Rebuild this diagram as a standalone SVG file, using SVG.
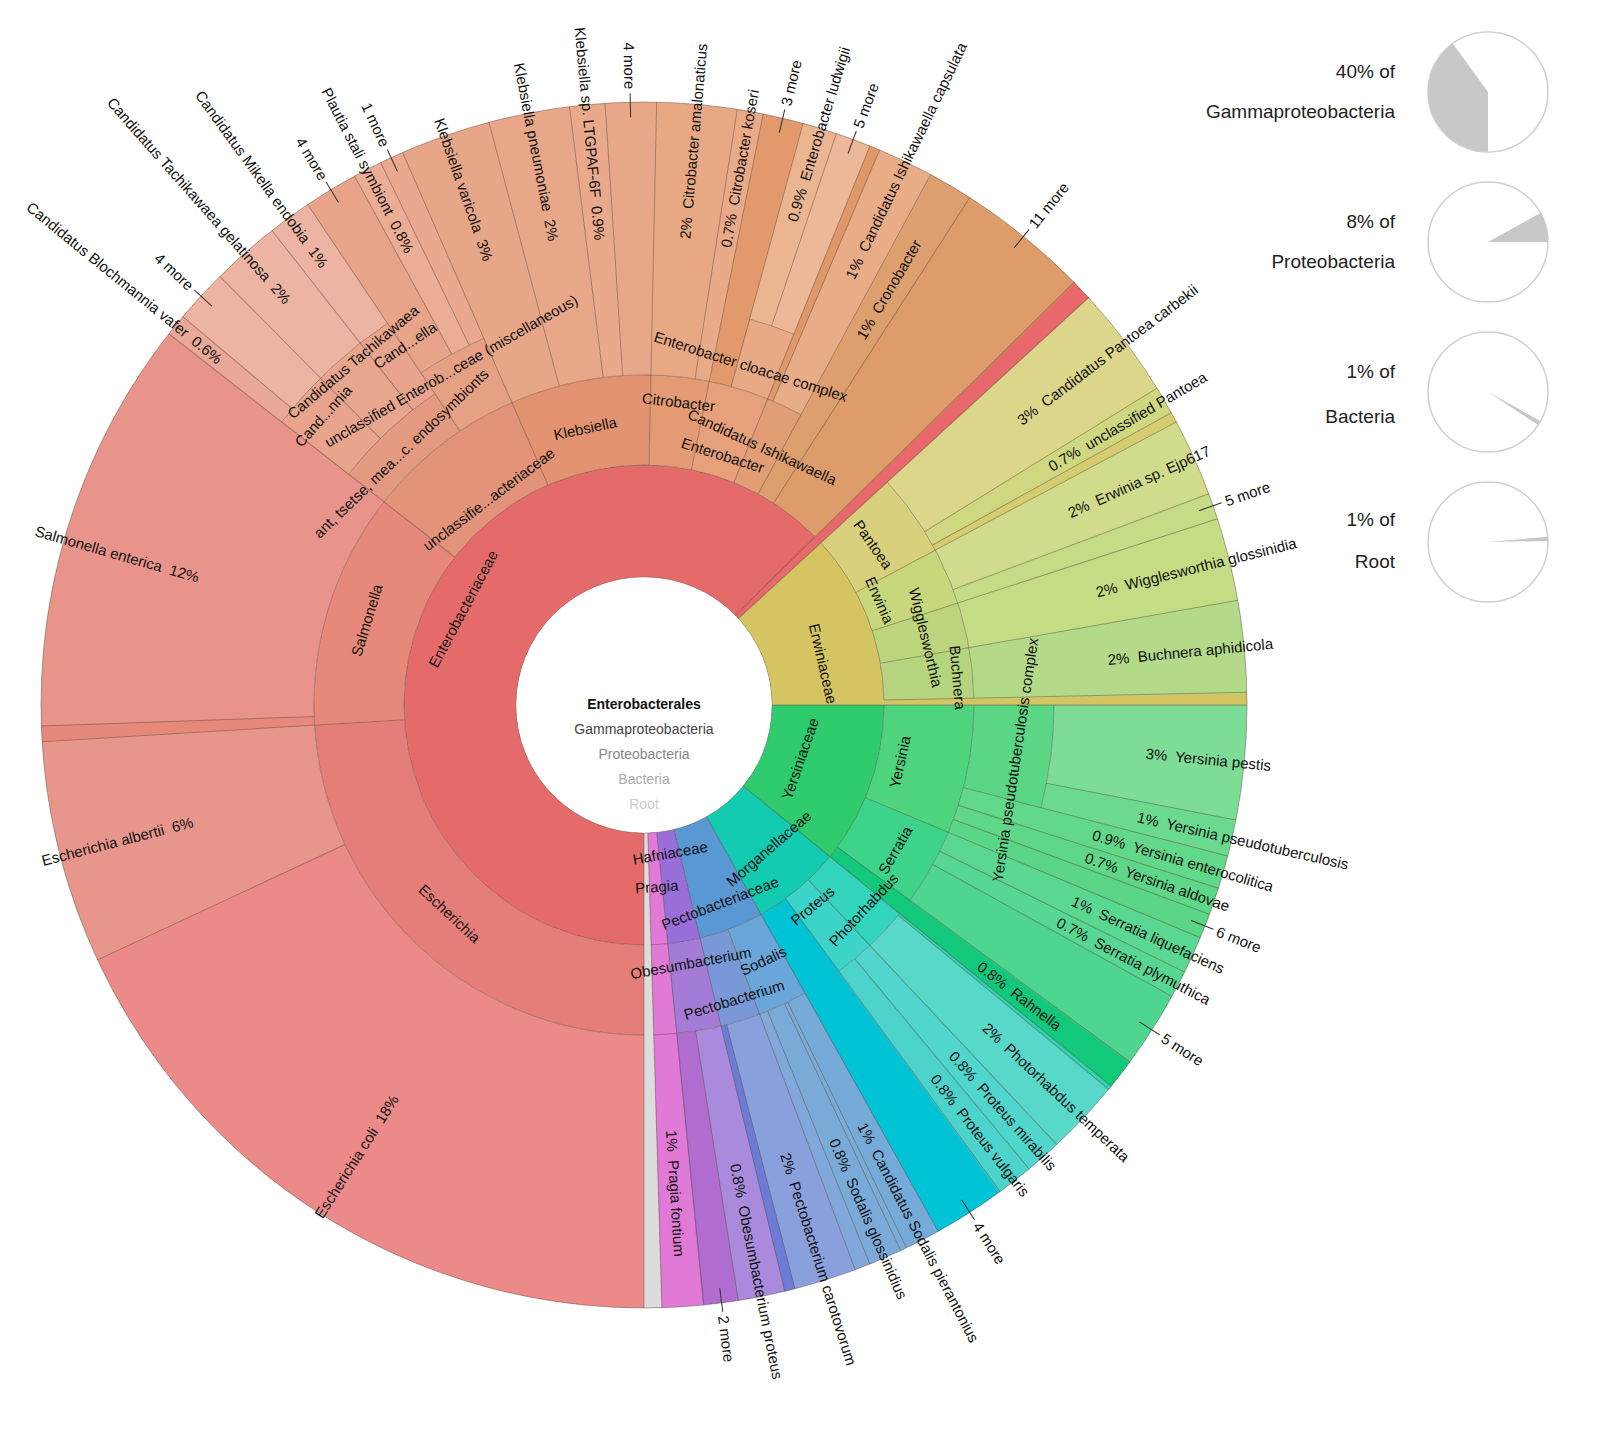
<svg xmlns="http://www.w3.org/2000/svg" width="1619" height="1449" viewBox="0 0 1619 1449">
<style>
circle.w{fill:none}
.t{font-family:"Liberation Sans",Arial,sans-serif;font-size:15px;fill:#111;white-space:pre;dominant-baseline:central}
.m{text-anchor:middle}
.e{text-anchor:end}
.sep{stroke:#5a463c;stroke-opacity:.45;stroke-width:1;fill:none}
.tick{stroke:#333;stroke-width:1}
.lg{font-family:"Liberation Sans",Arial,sans-serif;font-size:19px;fill:#222;text-anchor:end}
.ct{font-family:"Liberation Sans",Arial,sans-serif;font-size:14px;text-anchor:middle}
.pie{fill:#fff;stroke:#d0d0d0;stroke-width:1.5}
</style>
<rect width="1619" height="1449" fill="#fff"/>
<g transform="translate(644,705)">
<g id="wedges">
<g id="enterobacteriaceae"><circle class="w" r="184" stroke-width="112" pathLength="360" stroke-dasharray="227.3 360" stroke-dashoffset="-88.3" stroke="#e56b6b"/></g>
<g id="pink-slice"><circle class="w" r="365.5" stroke-width="475" pathLength="360" stroke-dasharray="2.1 360" stroke-dashoffset="-315.5" stroke="#e8686c"/></g>
<g id="erwiniaceae"><circle class="w" r="184" stroke-width="112" pathLength="360" stroke-dasharray="42.6 360" stroke-dashoffset="-317.5" stroke="#d4c462"/></g>
<g id="yersiniaceae"><circle class="w" r="184" stroke-width="112" pathLength="360" stroke-dasharray="39.3 360" stroke-dashoffset="0" stroke="#2ecc6c"/></g>
<g id="morganellaceae"><circle class="w" r="184" stroke-width="112" pathLength="360" stroke-dasharray="21.7 360" stroke-dashoffset="-39.2" stroke="#12cbb0"/></g>
<g id="pectobacteriaceae"><circle class="w" r="184" stroke-width="112" pathLength="360" stroke-dasharray="15.8 360" stroke-dashoffset="-60.8" stroke="#5a98d4"/></g>
<g id="hafniaceae"><circle class="w" r="184" stroke-width="112" pathLength="360" stroke-dasharray="7.9 360" stroke-dashoffset="-76.5" stroke="#9a6ed8"/></g>
<g id="pragia"><circle class="w" r="365.5" stroke-width="475" pathLength="360" stroke-dasharray="4.1 360" stroke-dashoffset="-84.3" stroke="#e07ad6"/></g>
<g id="escherichia"><circle class="w" r="285" stroke-width="90" pathLength="360" stroke-dasharray="88.3 360" stroke-dashoffset="-88.3" stroke="#e57e78"/></g>
<g id="salmonella"><circle class="w" r="285" stroke-width="90" pathLength="360" stroke-dasharray="41.6 360" stroke-dashoffset="-176.5" stroke="#e6897a"/></g>
<g id="unclassified-enterobacteriaceae"><circle class="w" r="285" stroke-width="90" pathLength="360" stroke-dasharray="28.5 360" stroke-dashoffset="-218" stroke="#e3937a"/></g>
<g id="klebsiella"><circle class="w" r="285" stroke-width="90" pathLength="360" stroke-dasharray="24.9 360" stroke-dashoffset="-246.4" stroke="#e3936f"/></g>
<g id="citrobacter"><circle class="w" r="285" stroke-width="90" pathLength="360" stroke-dasharray="10.3 360" stroke-dashoffset="-271.2" stroke="#e49a72"/></g>
<g id="enterobacter"><circle class="w" r="285" stroke-width="90" pathLength="360" stroke-dasharray="10.7 360" stroke-dashoffset="-281.4" stroke="#e6a07a"/></g>
<g id="ishikawaella"><circle class="w" r="285" stroke-width="90" pathLength="360" stroke-dasharray="6.5 360" stroke-dashoffset="-292" stroke="#e19e74"/></g>
<g id="pantoea"><circle class="w" r="285" stroke-width="90" pathLength="360" stroke-dasharray="14.6 360" stroke-dashoffset="-317.5" stroke="#d8d07c"/></g>
<g id="erwinia"><circle class="w" r="285" stroke-width="90" pathLength="360" stroke-dasharray="10.1 360" stroke-dashoffset="-332" stroke="#c8d67c"/></g>
<g id="wigglesworthia"><circle class="w" r="285" stroke-width="90" pathLength="360" stroke-dasharray="8.1 360" stroke-dashoffset="-342" stroke="#bcd57c"/></g>
<g id="buchnera"><circle class="w" r="285" stroke-width="90" pathLength="360" stroke-dasharray="8.9 360" stroke-dashoffset="-350" stroke="#b4d57e"/></g>
<g id="erwiniaceae-band"><circle class="w" r="421.5" stroke-width="363" pathLength="360" stroke-dasharray="1.3 360" stroke-dashoffset="-358.8" stroke="#d4c462"/></g>
<g id="yersinia"><circle class="w" r="285" stroke-width="90" pathLength="360" stroke-dasharray="22.8 360" stroke-dashoffset="0" stroke="#4ed47c"/></g>
<g id="serratia"><circle class="w" r="285" stroke-width="90" pathLength="360" stroke-dasharray="13.7 360" stroke-dashoffset="-22.7" stroke="#3dd48a"/></g>
<g id="rahnella"><circle class="w" r="421.5" stroke-width="363" pathLength="360" stroke-dasharray="3 360" stroke-dashoffset="-36.3" stroke="#12c87a"/></g>
<g id="photorhabdus"><circle class="w" r="285" stroke-width="90" pathLength="360" stroke-dasharray="7.7 360" stroke-dashoffset="-39.2" stroke="#32d4bc"/></g>
<g id="proteus"><circle class="w" r="285" stroke-width="90" pathLength="360" stroke-dasharray="7.1 360" stroke-dashoffset="-46.8" stroke="#3cd4c8"/></g>
<g id="morganellaceae-more"><circle class="w" r="421.5" stroke-width="363" pathLength="360" stroke-dasharray="7.1 360" stroke-dashoffset="-53.8" stroke="#00c4d6"/></g>
<g id="sodalis"><circle class="w" r="285" stroke-width="90" pathLength="360" stroke-dasharray="8.8 360" stroke-dashoffset="-60.8" stroke="#6aa6da"/></g>
<g id="pectobacterium"><circle class="w" r="285" stroke-width="90" pathLength="360" stroke-dasharray="7.1 360" stroke-dashoffset="-69.5" stroke="#7898d8"/></g>
<g id="obesumbacterium"><circle class="w" r="285" stroke-width="90" pathLength="360" stroke-dasharray="7.9 360" stroke-dashoffset="-76.5" stroke="#a47cd8"/></g>
<g id="cronobacter"><circle class="w" r="421.5" stroke-width="363" pathLength="360" stroke-dasharray="4.4 360" stroke-dashoffset="-298.4" stroke="#de9f6e"/></g>
<g id="entero-11more"><circle class="w" r="421.5" stroke-width="363" pathLength="360" stroke-dasharray="12.9 360" stroke-dashoffset="-302.7" stroke="#dd9c6a"/></g>
<g id="endosymbionts"><circle class="w" r="352.5" stroke-width="45" pathLength="360" stroke-dasharray="18.2 360" stroke-dashoffset="-218" stroke="#e49a80"/></g>
<g id="miscellaneous"><circle class="w" r="365" stroke-width="70" pathLength="360" stroke-dasharray="10.4 360" stroke-dashoffset="-236.1" stroke="#e6a084"/></g>
<g id="blochmannia"><circle class="w" r="417.5" stroke-width="85" pathLength="360" stroke-dasharray="7.4 360" stroke-dashoffset="-218" stroke="#e8a48c"/></g>
<g id="tachikawaea"><circle class="w" r="417.5" stroke-width="85" pathLength="360" stroke-dasharray="6.7 360" stroke-dashoffset="-225.3" stroke="#e8a68e"/></g>
<g id="mikella"><circle class="w" r="417.5" stroke-width="85" pathLength="360" stroke-dasharray="4.3 360" stroke-dashoffset="-231.9" stroke="#e8a48c"/></g>
<g id="cloacae-complex"><circle class="w" r="365" stroke-width="70" pathLength="360" stroke-dasharray="6.8 360" stroke-dashoffset="-285.3" stroke="#e8aa84"/></g>
<g id="pseudotb-complex"><circle class="w" r="370" stroke-width="80" pathLength="360" stroke-dasharray="14.6 360" stroke-dashoffset="0" stroke="#5ad684"/></g>
<g id="e-coli"><circle class="w" r="466.5" stroke-width="273" pathLength="360" stroke-dasharray="66.8 360" stroke-dashoffset="-88.3" stroke="#eb8a88"/></g>
<g id="e-albertii"><circle class="w" r="466.5" stroke-width="273" pathLength="360" stroke-dasharray="21.6 360" stroke-dashoffset="-155" stroke="#e8968c"/></g>
<g id="esch-small"><circle class="w" r="466.5" stroke-width="273" pathLength="360" stroke-dasharray="1.6 360" stroke-dashoffset="-176.5" stroke="#e6897a"/></g>
<g id="s-enterica"><circle class="w" r="466.5" stroke-width="273" pathLength="360" stroke-dasharray="40.1 360" stroke-dashoffset="-178" stroke="#e8948a"/></g>
<g id="blochmannia-vafer"><circle class="w" r="531.5" stroke-width="143" pathLength="360" stroke-dasharray="2.2 360" stroke-dashoffset="-218" stroke="#e9a898"/></g>
<g id="blochmannia-more"><circle class="w" r="531.5" stroke-width="143" pathLength="360" stroke-dasharray="5.3 360" stroke-dashoffset="-220.1" stroke="#edb3a3"/></g>
<g id="tachikawaea-gelatinosa"><circle class="w" r="531.5" stroke-width="143" pathLength="360" stroke-dasharray="6.7 360" stroke-dashoffset="-225.3" stroke="#edb3a3"/></g>
<g id="mikella-endobia"><circle class="w" r="531.5" stroke-width="143" pathLength="360" stroke-dasharray="4.3 360" stroke-dashoffset="-231.9" stroke="#edb3a3"/></g>
<g id="misc-more"><circle class="w" r="501.5" stroke-width="203" pathLength="360" stroke-dasharray="5.3 360" stroke-dashoffset="-236.1" stroke="#e8a488"/></g>
<g id="plautia"><circle class="w" r="501.5" stroke-width="203" pathLength="360" stroke-dasharray="2.9 360" stroke-dashoffset="-241.3" stroke="#ecad95"/></g>
<g id="misc-1more"><circle class="w" r="501.5" stroke-width="203" pathLength="360" stroke-dasharray="2.4 360" stroke-dashoffset="-244.1" stroke="#eaa98f"/></g>
<g id="k-variicola"><circle class="w" r="466.5" stroke-width="273" pathLength="360" stroke-dasharray="8.8 360" stroke-dashoffset="-246.4" stroke="#e8a688"/></g>
<g id="k-pneumoniae"><circle class="w" r="466.5" stroke-width="273" pathLength="360" stroke-dasharray="7.9 360" stroke-dashoffset="-255.1" stroke="#e8a788"/></g>
<g id="k-sp"><circle class="w" r="466.5" stroke-width="273" pathLength="360" stroke-dasharray="3.5 360" stroke-dashoffset="-262.9" stroke="#e9a98a"/></g>
<g id="k-more"><circle class="w" r="466.5" stroke-width="273" pathLength="360" stroke-dasharray="5 360" stroke-dashoffset="-266.3" stroke="#e8a788"/></g>
<g id="c-amalonaticus"><circle class="w" r="466.5" stroke-width="273" pathLength="360" stroke-dasharray="7.8 360" stroke-dashoffset="-271.2" stroke="#e9a884"/></g>
<g id="c-koseri"><circle class="w" r="466.5" stroke-width="273" pathLength="360" stroke-dasharray="2.6 360" stroke-dashoffset="-278.9" stroke="#e9aa88"/></g>
<g id="enterobacter-more"><circle class="w" r="466.5" stroke-width="273" pathLength="360" stroke-dasharray="4 360" stroke-dashoffset="-281.4" stroke="#e29a6c"/></g>
<g id="e-ludwigii"><circle class="w" r="501.5" stroke-width="203" pathLength="360" stroke-dasharray="3.4 360" stroke-dashoffset="-285.3" stroke="#ebb592"/></g>
<g id="cloacae-more"><circle class="w" r="501.5" stroke-width="203" pathLength="360" stroke-dasharray="3.5 360" stroke-dashoffset="-288.6" stroke="#ecb898"/></g>
<g id="enterobacter-thin"><circle class="w" r="466.5" stroke-width="273" pathLength="360" stroke-dasharray="1.1 360" stroke-dashoffset="-292" stroke="#e09868"/></g>
<g id="ishikawaella-capsulata"><circle class="w" r="466.5" stroke-width="273" pathLength="360" stroke-dasharray="5.5 360" stroke-dashoffset="-293" stroke="#e8ac86"/></g>
<g id="p-carbekii"><circle class="w" r="466.5" stroke-width="273" pathLength="360" stroke-dasharray="10.9 360" stroke-dashoffset="-317.5" stroke="#dcd68a"/></g>
<g id="unclassified-pantoea"><circle class="w" r="466.5" stroke-width="273" pathLength="360" stroke-dasharray="2.8 360" stroke-dashoffset="-328.3" stroke="#cfd880"/></g>
<g id="pantoea-thin"><circle class="w" r="466.5" stroke-width="273" pathLength="360" stroke-dasharray="1.1 360" stroke-dashoffset="-331" stroke="#d6cc70"/></g>
<g id="erwinia-sp"><circle class="w" r="466.5" stroke-width="273" pathLength="360" stroke-dasharray="7.6 360" stroke-dashoffset="-332" stroke="#d0dc8c"/></g>
<g id="erwinia-more"><circle class="w" r="466.5" stroke-width="273" pathLength="360" stroke-dasharray="2.6 360" stroke-dashoffset="-339.5" stroke="#c4dc86"/></g>
<g id="w-glossinidia"><circle class="w" r="466.5" stroke-width="273" pathLength="360" stroke-dasharray="8.1 360" stroke-dashoffset="-342" stroke="#c4dc84"/></g>
<g id="b-aphidicola"><circle class="w" r="466.5" stroke-width="273" pathLength="360" stroke-dasharray="8.9 360" stroke-dashoffset="-350" stroke="#b2da88"/></g>
<g id="y-pestis"><circle class="w" r="506.5" stroke-width="193" pathLength="360" stroke-dasharray="11.1 360" stroke-dashoffset="0" stroke="#7ddc96"/></g>
<g id="y-pseudotuberculosis"><circle class="w" r="506.5" stroke-width="193" pathLength="360" stroke-dasharray="3.6 360" stroke-dashoffset="-11" stroke="#6cda8e"/></g>
<g id="y-enterocolitica"><circle class="w" r="466.5" stroke-width="273" pathLength="360" stroke-dasharray="3.3 360" stroke-dashoffset="-14.5" stroke="#62d88a"/></g>
<g id="y-aldovae"><circle class="w" r="466.5" stroke-width="273" pathLength="360" stroke-dasharray="2.7 360" stroke-dashoffset="-17.7" stroke="#5ed888"/></g>
<g id="yersinia-more"><circle class="w" r="466.5" stroke-width="273" pathLength="360" stroke-dasharray="2.5 360" stroke-dashoffset="-20.3" stroke="#5ad686"/></g>
<g id="s-liquefaciens"><circle class="w" r="466.5" stroke-width="273" pathLength="360" stroke-dasharray="3.7 360" stroke-dashoffset="-22.7" stroke="#5ad892"/></g>
<g id="s-plymuthica"><circle class="w" r="466.5" stroke-width="273" pathLength="360" stroke-dasharray="2.7 360" stroke-dashoffset="-26.3" stroke="#56d892"/></g>
<g id="serratia-more"><circle class="w" r="466.5" stroke-width="273" pathLength="360" stroke-dasharray="7.5 360" stroke-dashoffset="-28.9" stroke="#4ed690"/></g>
<g id="photorhabdus-small"><circle class="w" r="466.5" stroke-width="273" pathLength="360" stroke-dasharray="0.5 360" stroke-dashoffset="-39.2" stroke="#30d4b0"/></g>
<g id="p-temperata"><circle class="w" r="466.5" stroke-width="273" pathLength="360" stroke-dasharray="7.3 360" stroke-dashoffset="-39.6" stroke="#58d8c8"/></g>
<g id="p-mirabilis"><circle class="w" r="466.5" stroke-width="273" pathLength="360" stroke-dasharray="3.6 360" stroke-dashoffset="-46.8" stroke="#50d6cc"/></g>
<g id="p-vulgaris"><circle class="w" r="466.5" stroke-width="273" pathLength="360" stroke-dasharray="3.6 360" stroke-dashoffset="-50.3" stroke="#4cd4cc"/></g>
<g id="s-pierantonius"><circle class="w" r="466.5" stroke-width="273" pathLength="360" stroke-dasharray="3.5 360" stroke-dashoffset="-60.8" stroke="#76aad8"/></g>
<g id="sodalis-small"><circle class="w" r="466.5" stroke-width="273" pathLength="360" stroke-dasharray="0.7 360" stroke-dashoffset="-64.2" stroke="#7aacda"/></g>
<g id="s-glossinidius"><circle class="w" r="466.5" stroke-width="273" pathLength="360" stroke-dasharray="3.3 360" stroke-dashoffset="-64.8" stroke="#7aaad8"/></g>
<g id="sodalis-small2"><circle class="w" r="466.5" stroke-width="273" pathLength="360" stroke-dasharray="1.6 360" stroke-dashoffset="-68" stroke="#80a8da"/></g>
<g id="p-carotovorum"><circle class="w" r="466.5" stroke-width="273" pathLength="360" stroke-dasharray="6.1 360" stroke-dashoffset="-69.5" stroke="#8aa0dc"/></g>
<g id="pectobacterium-small"><circle class="w" r="466.5" stroke-width="273" pathLength="360" stroke-dasharray="1.1 360" stroke-dashoffset="-75.5" stroke="#6c7cd6"/></g>
<g id="o-proteus"><circle class="w" r="466.5" stroke-width="273" pathLength="360" stroke-dasharray="4.6 360" stroke-dashoffset="-76.5" stroke="#a98adc"/></g>
<g id="hafnia-more"><circle class="w" r="466.5" stroke-width="273" pathLength="360" stroke-dasharray="3.4 360" stroke-dashoffset="-81" stroke="#b06ccf"/></g>
<g id="other"><circle class="w" r="365.5" stroke-width="475" pathLength="360" stroke-dasharray="1.7 360" stroke-dashoffset="-88.3" stroke="#dcdcdc"/></g>
</g>
<g id="borders" class="sep">
<circle r="603"/><circle r="128"/>
<circle r="240" pathLength="360" stroke-dasharray="88.3 1.7 225.5 2 41.3 1.2"/>
<circle r="330" pathLength="360" stroke-dasharray="36.3 2.9 14.6 7 27.5 1.7 208.4 19.1 41.3 1.2"/>
<circle r="375" pathLength="360" stroke-dasharray="18.1 360" stroke-dashoffset="-218"/>
<circle r="460" pathLength="360" stroke-dasharray="18.1 360" stroke-dashoffset="-218"/>
<circle r="400" pathLength="360" stroke-dasharray="10.3 360" stroke-dashoffset="-236.1"/>
<circle r="400" pathLength="360" stroke-dasharray="6.7 360" stroke-dashoffset="-285.3"/>
<circle r="410" pathLength="360" stroke-dasharray="14.5 360" stroke-dashoffset="0"/>
<path d="M128 0H603" transform="rotate(90)"/><path d="M128 0H603" transform="rotate(315.5)"/><path d="M128 0H603" transform="rotate(317.5)"/><path d="M128 0H603" transform="rotate(0)"/><path d="M128 0H603" transform="rotate(39.2)"/><path d="M128 0H603" transform="rotate(60.8)"/><path d="M128 0H603" transform="rotate(76.5)"/><path d="M128 0H603" transform="rotate(84.3)"/><path d="M128 0H603" transform="rotate(88.3)"/>
<path d="M240 0H603" transform="rotate(176.5)"/><path d="M240 0H603" transform="rotate(218)"/><path d="M240 0H603" transform="rotate(246.4)"/><path d="M240 0H603" transform="rotate(271.2)"/><path d="M240 0H603" transform="rotate(281.4)"/><path d="M240 0H603" transform="rotate(292)"/><path d="M240 0H603" transform="rotate(298.4)"/><path d="M240 0H603" transform="rotate(302.7)"/><path d="M240 0H603" transform="rotate(332)"/><path d="M240 0H603" transform="rotate(342)"/><path d="M240 0H603" transform="rotate(350)"/><path d="M240 0H603" transform="rotate(358.8)"/><path d="M240 0H603" transform="rotate(22.7)"/><path d="M240 0H603" transform="rotate(36.3)"/><path d="M240 0H603" transform="rotate(46.8)"/><path d="M240 0H603" transform="rotate(53.8)"/><path d="M240 0H603" transform="rotate(69.5)"/>
<path d="M330 0H603" transform="rotate(155)"/><path d="M330 0H603" transform="rotate(178)"/><path d="M460 0H603" transform="rotate(220.1)"/><path d="M375 0H603" transform="rotate(225.3)"/><path d="M375 0H603" transform="rotate(231.9)"/><path d="M330 0H603" transform="rotate(236.1)"/><path d="M400 0H603" transform="rotate(241.3)"/><path d="M400 0H603" transform="rotate(244.1)"/><path d="M330 0H603" transform="rotate(255.1)"/><path d="M330 0H603" transform="rotate(262.9)"/><path d="M330 0H603" transform="rotate(266.3)"/><path d="M330 0H603" transform="rotate(278.9)"/><path d="M330 0H603" transform="rotate(285.3)"/><path d="M400 0H603" transform="rotate(288.6)"/><path d="M330 0H603" transform="rotate(293)"/><path d="M330 0H603" transform="rotate(328.3)"/><path d="M330 0H603" transform="rotate(331)"/><path d="M330 0H603" transform="rotate(339.5)"/><path d="M410 0H603" transform="rotate(11)"/><path d="M330 0H603" transform="rotate(14.5)"/><path d="M330 0H603" transform="rotate(17.7)"/><path d="M330 0H603" transform="rotate(20.3)"/><path d="M330 0H603" transform="rotate(26.3)"/><path d="M330 0H603" transform="rotate(28.9)"/><path d="M330 0H603" transform="rotate(39.6)"/><path d="M330 0H603" transform="rotate(50.3)"/><path d="M330 0H603" transform="rotate(64.2)"/><path d="M330 0H603" transform="rotate(64.8)"/><path d="M330 0H603" transform="rotate(68)"/><path d="M330 0H603" transform="rotate(75.5)"/><path d="M330 0H603" transform="rotate(81)"/>
</g>
<g id="labels">
<text class="t m" transform="rotate(298) translate(0,-205)">Enterobacteriaceae</text>
<text class="t m" transform="rotate(77) translate(0,-184)">Erwiniaceae</text>
<text class="t m" transform="rotate(-71) translate(0,165)">Yersiniaceae</text>
<text class="t m" transform="rotate(-41) translate(0,190)">Morganellaceae</text>
<text class="t m" transform="rotate(-21) translate(0,212)">Pectobacteriaceae</text>
<text class="t m" transform="rotate(-10) translate(0,150)">Hafniaceae</text>
<text class="t m" transform="rotate(-4) translate(0,182)">Pragia</text>
<text class="t m" transform="rotate(43) translate(0,285)">Escherichia</text>
<text class="t m" transform="rotate(287) translate(0,-290)">Salmonella</text>
<text class="t m" transform="rotate(323) translate(0,-258)">unclassifie...acteriaceae</text>
<text class="t m" transform="rotate(348) translate(0,-283)">Klebsiella</text>
<text class="t m" transform="rotate(6.5) translate(0,-305)">Citrobacter</text>
<text class="t m" transform="rotate(17.5) translate(0,-262)">Enterobacter</text>
<text class="t m" transform="rotate(24.6) translate(0,-284)">Candidatus Ishikawaella</text>
<text class="t m" transform="rotate(55) translate(0,-280)">Pantoea</text>
<text class="t m" transform="rotate(66) translate(0,-258)">Erwinia</text>
<text class="t m" transform="rotate(76.5) translate(0,-290)">Wigglesworthia</text>
<text class="t m" transform="rotate(85) translate(0,-315)">Buchnera</text>
<text class="t m" transform="rotate(-77.5) translate(0,262)">Yersinia</text>
<text class="t m" transform="rotate(-60) translate(0,290)">Serratia</text>
<text class="t m" transform="rotate(-47) translate(0,300)">Photorhabdus</text>
<text class="t m" transform="rotate(-40) translate(0,262)">Proteus</text>
<text class="t m" transform="rotate(-25) translate(0,282)">Sodalis</text>
<text class="t m" transform="rotate(-17) translate(0,308)">Pectobacterium</text>
<text class="t m" transform="rotate(-10.3) translate(0,262)">Obesumbacterium</text>
<text class="t m" transform="rotate(316) translate(0,-350)">ant, tsetse, mea...c. endosymbionts</text>
<text class="t m" transform="rotate(330) translate(0,-386)">unclassified Enterob...ceae (miscellaneous)</text>
<text class="t m" transform="rotate(312) translate(0,-432)">Cand...nnia</text>
<text class="t m" transform="rotate(319.7) translate(0,-450)">Candidatus Tachikawaea</text>
<text class="t m" transform="rotate(326.4) translate(0,-432)">Cand...ella</text>
<text class="t m" transform="rotate(17.5) translate(0,-355)">Enterobacter cloacae complex</text>
<text class="t m" transform="rotate(-81.6) translate(0,375)">Yersinia pseudotuberculosis complex</text>
<text class="t e" transform="rotate(-57.5)" x="-464">Escherichia coli  18%</text>
<text class="t e" transform="rotate(-14.5)" x="-466">Escherichia albertii  6%</text>
<text class="t e" transform="rotate(16)" x="-463">Salmonella enterica  12%</text>
<text class="t e" transform="rotate(39.1)" x="-546">Candidatus Blochmannia vafer  0.6%</text>
<text class="t e" transform="rotate(48.6)" x="-538">Candidatus Tachikawaea gelatinosa  2%</text>
<text class="t e" transform="rotate(54)" x="-543">Candidatus Mikella endobia  1%</text>
<text class="t e" transform="rotate(62.7)" x="-510">Plautia stali symbiont  0.8%</text>
<text class="t e" transform="rotate(70.75)" x="-471">Klebsiella varicola  3%</text>
<text class="t e" transform="rotate(79)" x="-473">Klebsiella pneumoniae  2%</text>
<text class="t e" transform="rotate(84.6)" x="-467">Klebsiella sp. LTGPAF-6F  0.9%</text>
<text class="t" transform="rotate(-85)" x="468">2%  Citrobacter amalonaticus</text>
<text class="t" transform="rotate(-79.9)" x="465">0.7%  Citrobacter koseri</text>
<text class="t" transform="rotate(-73)" x="506">0.9%  Enterobacter ludwigii</text>
<text class="t" transform="rotate(-64.3)" x="474">1%  Candidatus Ishikawaella capsulata</text>
<text class="t" transform="rotate(-59.5)" x="426">1%  Cronobacter</text>
<text class="t" transform="rotate(-37.1)" x="470">3%  Candidatus Pantoea carbekii</text>
<text class="t" transform="rotate(-30.4)" x="470">0.7%  unclassified Pantoea</text>
<text class="t" transform="rotate(-24.3)" x="466">2%  Erwinia sp. Ejp617</text>
<text class="t" transform="rotate(-14)" x="466">2%  Wigglesworthia glossinidia</text>
<text class="t" transform="rotate(-5.6)" x="466">2%  Buchnera aphidicola</text>
<text class="t" transform="rotate(5.5)" x="504">3%  Yersinia pestis</text>
<text class="t" transform="rotate(12.75)" x="506">1%  Yersinia pseudotuberculosis</text>
<text class="t" transform="rotate(16.1)" x="467">0.9%  Yersinia enterocolitica</text>
<text class="t" transform="rotate(19)" x="467">0.7%  Yersinia aldovae</text>
<text class="t" transform="rotate(24.5)" x="471">1%  Serratia liquefaciens</text>
<text class="t" transform="rotate(27.6)" x="467">0.7%  Serratia plymuthica</text>
<text class="t" transform="rotate(37.75)" x="424">0.8%  Rahnella</text>
<text class="t" transform="rotate(43.2)" x="468">2%  Photorhabdus temperata</text>
<text class="t" transform="rotate(48.5)" x="465">0.8%  Proteus mirabilis</text>
<text class="t" transform="rotate(52)" x="471">0.8%  Proteus vulgaris</text>
<text class="t" transform="rotate(62.5)" x="472">1%  Candidatus Sodalis pierantonius</text>
<text class="t" transform="rotate(66.4)" x="474">0.8%  Sodalis glossinidius</text>
<text class="t" transform="rotate(72.5)" x="470">2%  Pectobacterium carotovorum</text>
<text class="t" transform="rotate(78.75)" x="468">0.8%  Obesumbacterium proteus</text>
<text class="t" transform="rotate(86.3)" x="426">1%  Pragia fontium</text>
</g>
<g id="more-labels">
<g class="tick"><path d="M588 0H612" transform="rotate(222.7)"/><path d="M588 0H612" transform="rotate(238.7)"/><path d="M588 0H612" transform="rotate(245.2)"/><path d="M588 0H612" transform="rotate(268.7)"/><path d="M588 0H612" transform="rotate(283.3)"/><path d="M588 0H612" transform="rotate(290.3)"/><path d="M588 0H612" transform="rotate(309)"/><path d="M588 0H612" transform="rotate(340.7)"/><path d="M588 0H612" transform="rotate(21.5)"/><path d="M588 0H612" transform="rotate(32.6)"/><path d="M588 0H612" transform="rotate(57.3)"/><path d="M588 0H612" transform="rotate(82.6)"/></g>
<text class="t e" transform="rotate(42.7)" x="-616">4 more</text>
<text class="t e" transform="rotate(58.7)" x="-616">4 more</text>
<text class="t e" transform="rotate(65.2)" x="-616">1 more</text>
<text class="t e" transform="rotate(88.7)" x="-616">4 more</text>
<text class="t" transform="rotate(-76.7)" x="616">3 more</text>
<text class="t" transform="rotate(-69.7)" x="616">5 more</text>
<text class="t" transform="rotate(-51)" x="616">11 more</text>
<text class="t" transform="rotate(-19.3)" x="616">5 more</text>
<text class="t" transform="rotate(21.5)" x="616">6 more</text>
<text class="t" transform="rotate(32.6)" x="616">5 more</text>
<text class="t" transform="rotate(57.3)" x="616">4 more</text>
<text class="t" transform="rotate(82.6)" x="616">2 more</text>
</g>
<g id="center"><circle r="127.5" fill="#fff"/>
<text class="ct" y="4" font-weight="bold" fill="#111">Enterobacterales</text>
<text class="ct" y="29" fill="#444">Gammaproteobacteria</text>
<text class="ct" y="54" fill="#888">Proteobacteria</text>
<text class="ct" y="79" fill="#aaa">Bacteria</text>
<text class="ct" y="104" fill="#ccc">Root</text></g>
</g>
<g id="legend-gamma"><circle class="pie" cx="1488" cy="92" r="60"/><path d="M1488 92 L1488 152 A60 60 0 0 1 1452.7 43.5 Z" fill="#c8c8c8"/><text class="lg" x="1395" y="78">40% of</text><text class="lg" x="1395" y="118">Gammaproteobacteria</text></g>
<g id="legend-proteo"><circle class="pie" cx="1488" cy="242" r="60"/><path d="M1488 242 L1540.5 213 A60 60 0 0 1 1548 242 Z" fill="#c8c8c8"/><text class="lg" x="1395" y="228">8% of</text><text class="lg" x="1395" y="268">Proteobacteria</text></g>
<g id="legend-bacteria"><circle class="pie" cx="1488" cy="392" r="60"/><path d="M1488 392 L1540.5 421 A60 60 0 0 1 1538 425 Z" fill="#c8c8c8"/><text class="lg" x="1395" y="378">1% of</text><text class="lg" x="1395" y="423">Bacteria</text></g>
<g id="legend-root"><circle class="pie" cx="1488" cy="542" r="60"/><path d="M1488 542 L1547.8 536.8 A60 60 0 0 1 1548 541 Z" fill="#c8c8c8"/><text class="lg" x="1395" y="526">1% of</text><text class="lg" x="1395" y="568">Root</text></g>
</svg>
